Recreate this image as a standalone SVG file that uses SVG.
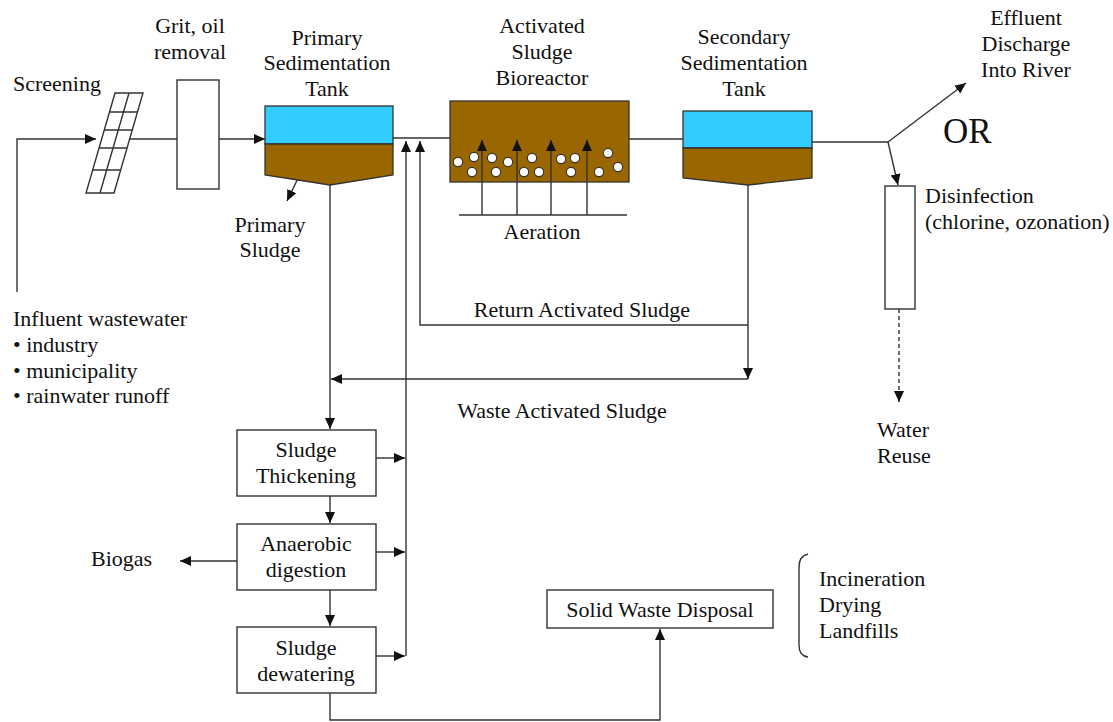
<svg xmlns="http://www.w3.org/2000/svg" width="1113" height="722" viewBox="0 0 1113 722" font-family="'Liberation Serif', 'DejaVu Serif', serif">
  <defs>
    <marker id="arrow" markerUnits="userSpaceOnUse" markerWidth="12" markerHeight="12" viewBox="0 0 12 12" refX="11" refY="6" orient="auto">
      <path d="M0,1 L11,6 L0,11 Z" fill="#111"/>
    </marker>
    <style>
      text { font-size: 22px; fill: #111; }
      .c { text-anchor: middle; }
      .ln { fill: none; stroke: #333; stroke-width: 1.4; }
      .arr { fill: none; stroke: #333; stroke-width: 1.4; marker-end: url(#arrow); }
      .box { fill: #fff; stroke: #333; stroke-width: 1.4; }
      .water { fill: #33ccff; stroke: #333; stroke-width: 1.3; }
      .sludge { fill: #996600; stroke: #333; stroke-width: 1.3; }
      .bubble { fill: #fff; stroke: #333; stroke-width: 1.1; }
    </style>
  </defs>

  <rect width="1113" height="722" fill="#fff"/>

  <!-- connectors -->
  <g id="connectors">
    <!-- influent to screen -->
    <path class="arr" d="M17,292 L17,139 L96,139"/>
    <!-- screen to grit removal -->
    <path class="ln" d="M130,139 L177,139"/>
    <!-- grit removal to primary tank -->
    <path class="arr" d="M219,139 L265,139"/>
    <!-- primary tank to bioreactor -->
    <path class="ln" d="M393,138 L450,138"/>
    <!-- bioreactor to secondary tank -->
    <path class="ln" d="M629,139 L683,139"/>
    <!-- secondary tank outlet and split -->
    <path class="ln" d="M812,142 L888,142"/>
    <path class="arr" d="M888,142 L966,83"/>
    <path class="arr" d="M888,142 L898,185"/>
    <!-- disinfection to water reuse -->
    <path class="arr" d="M899,309 L899,402" stroke-dasharray="4,3"/>
    <!-- primary sludge -->
    <path class="arr" d="M303,168 L287,201"/>
    <!-- primary tank underflow to thickening -->
    <path class="arr" d="M330,185 L330,429"/>
    <!-- secondary tank underflow: return and waste sludge -->
    <path class="arr" d="M748,185 L748,379"/>
    <path class="arr" d="M748,325 L420,325 L420,141"/>
    <path class="arr" d="M748,379 L331,379"/>
    <!-- side streams back to head of plant -->
    <path class="arr" d="M406,656 L406,141"/>
    <path class="arr" d="M376,458 L405,458"/>
    <path class="arr" d="M376,552 L405,552"/>
    <path class="arr" d="M376,656 L405,656"/>
    <!-- sludge train -->
    <path class="arr" d="M330,496 L330,523"/>
    <path class="arr" d="M330,590 L330,626"/>
    <path class="arr" d="M237,561 L180,561"/>
    <path class="arr" d="M330,693 L330,720 L660,720 L660,629"/>
  </g>

  <!-- screening -->
  <g id="screening">
    <path class="ln" d="M115,93 L143,93 L114,193 L86,193 Z"/>
    <path class="ln" d="M129,93 L100,193 M109.5,112 L137.5,112 M104.3,130 L132.3,130 M99.1,148 L127.1,148 M92.7,170 L120.7,170"/>
    <text x="13" y="91">Screening</text>
  </g>

  <!-- grit and oil removal -->
  <g id="grit">
    <rect class="box" x="177" y="80" width="42" height="109"/>
    <text class="c" x="190" y="33">Grit, oil</text>
    <text class="c" x="190" y="59">removal</text>
  </g>

  <!-- primary sedimentation tank -->
  <g id="primary-tank">
    <rect class="water" x="265" y="106" width="128" height="38"/>
    <path class="sludge" d="M265,144 L393,144 L393,175 L330,185 L265,175 Z"/>
    <text class="c" x="327" y="45">Primary</text>
    <text class="c" x="327" y="70">Sedimentation</text>
    <text class="c" x="327" y="96">Tank</text>
    <text class="c" x="270" y="232">Primary</text>
    <text class="c" x="270" y="257">Sludge</text>
  </g>

  <!-- activated sludge bioreactor -->
  <g id="bioreactor">
    <rect class="sludge" x="450" y="101" width="179" height="81"/>
    <g>
      <circle class="bubble" cx="458" cy="162" r="4.6"/>
      <circle class="bubble" cx="474" cy="157" r="4.6"/>
      <circle class="bubble" cx="472" cy="172" r="4.6"/>
      <circle class="bubble" cx="492" cy="158" r="4.6"/>
      <circle class="bubble" cx="496" cy="172" r="4.6"/>
      <circle class="bubble" cx="508" cy="162" r="4.6"/>
      <circle class="bubble" cx="532" cy="158" r="4.6"/>
      <circle class="bubble" cx="524" cy="172" r="4.6"/>
      <circle class="bubble" cx="539" cy="172" r="4.6"/>
      <circle class="bubble" cx="561" cy="159" r="4.6"/>
      <circle class="bubble" cx="575" cy="158" r="4.6"/>
      <circle class="bubble" cx="571" cy="172" r="4.6"/>
      <circle class="bubble" cx="608" cy="153" r="4.6"/>
      <circle class="bubble" cx="599" cy="172" r="4.6"/>
      <circle class="bubble" cx="618" cy="167" r="4.6"/>
    </g>
    <path class="ln" d="M459,215 L627,215"/>
    <path class="arr" d="M482,215 L482,140"/>
    <path class="arr" d="M517,215 L517,140"/>
    <path class="arr" d="M551,215 L551,140"/>
    <path class="arr" d="M587,215 L587,140"/>
    <text class="c" x="542" y="33">Activated</text>
    <text class="c" x="542" y="59">Sludge</text>
    <text class="c" x="542" y="85">Bioreactor</text>
    <text class="c" x="542" y="239">Aeration</text>
  </g>

  <!-- secondary sedimentation tank -->
  <g id="secondary-tank">
    <rect class="water" x="683" y="111" width="129" height="37"/>
    <path class="sludge" d="M683,148 L812,148 L812,178 L748,185 L683,178 Z"/>
    <text class="c" x="744" y="44">Secondary</text>
    <text class="c" x="744" y="70">Sedimentation</text>
    <text class="c" x="744" y="96">Tank</text>
  </g>

  <!-- effluent discharge -->
  <g id="effluent">
    <text class="c" x="1026" y="25">Effluent</text>
    <text class="c" x="1026" y="51">Discharge</text>
    <text class="c" x="1026" y="77">Into River</text>
    <text x="943" y="143" style="font-size:35px">OR</text>
  </g>

  <!-- disinfection -->
  <g id="disinfection">
    <rect class="box" x="885" y="186" width="30" height="123"/>
    <text x="925" y="203">Disinfection</text>
    <text x="925" y="229">(chlorine, ozonation)</text>
  </g>

  <!-- water reuse -->
  <g id="water-reuse">
    <text x="877" y="437">Water</text>
    <text x="877" y="463">Reuse</text>
  </g>

  <!-- influent description -->
  <g id="influent">
    <text x="13" y="326">Influent wastewater</text>
    <text x="13" y="352">• industry</text>
    <text x="13" y="378">• municipality</text>
    <text x="13" y="403">• rainwater runoff</text>
  </g>

  <!-- sludge stream labels -->
  <g id="return-label">
    <text class="c" x="582" y="317">Return Activated Sludge</text>
  </g>
  <g id="waste-label">
    <text class="c" x="562" y="418">Waste Activated Sludge</text>
  </g>

  <!-- sludge treatment -->
  <g id="thickening">
    <rect class="box" x="237" y="430" width="139" height="66"/>
    <text class="c" x="306" y="457">Sludge</text>
    <text class="c" x="306" y="483">Thickening</text>
  </g>
  <g id="digestion">
    <rect class="box" x="237" y="524" width="139" height="66"/>
    <text class="c" x="306" y="551">Anaerobic</text>
    <text class="c" x="306" y="577">digestion</text>
  </g>
  <g id="dewatering">
    <rect class="box" x="237" y="627" width="139" height="66"/>
    <text class="c" x="306" y="655">Sludge</text>
    <text class="c" x="306" y="681">dewatering</text>
  </g>
  <g id="biogas">
    <text x="91" y="566">Biogas</text>
  </g>

  <!-- solid waste disposal -->
  <g id="solid-waste">
    <rect class="box" x="547" y="590" width="226" height="38"/>
    <text class="c" x="660" y="617">Solid Waste Disposal</text>
  </g>
  <g id="disposal-options">
    <path class="ln" d="M808,554 Q799,556 799,567 L799,645 Q799,656 808,657" stroke="#555"/>
    <text x="819" y="586">Incineration</text>
    <text x="819" y="612">Drying</text>
    <text x="819" y="638">Landfills</text>
  </g>
</svg>
